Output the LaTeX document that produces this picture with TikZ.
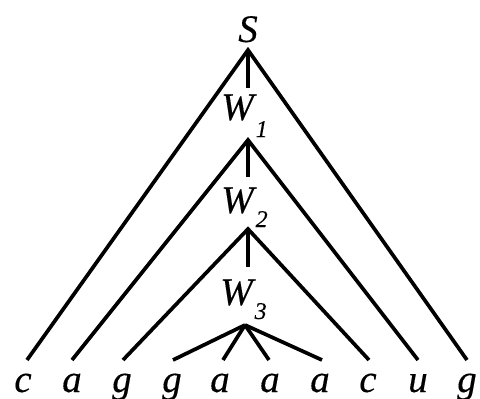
\documentclass[tikz,border=0pt]{standalone}
\usepackage{fontspec}
\setmainfont{Liberation Serif}[ItalicFeatures={FakeBold=0.3}]
\begin{document}
\begin{tikzpicture}[x=1pt,y=-1pt,
  lbl/.style={inner sep=0pt,anchor=base,font=\fontsize{39}{39}\selectfont\itshape},
  wlbl/.style={inner sep=0pt,anchor=base west,font=\fontsize{39}{39}\selectfont\itshape},
  edge/.style={line width=3.7pt,line cap=butt},
  stem/.style={line width=4pt}]
\newcommand{\subdig}[2]{\raisebox{-#1pt}{\fontsize{24}{24}\selectfont\itshape #2}}
\useasboundingbox (0,0) rectangle (480,399);
% labels
\node[lbl] (S) at (248,42) {S};
\node[wlbl] (W1) at (221,120) {W\hspace{2pt}\subdig{17}{1}};
\node[wlbl] (W2) at (221,213) {W\hspace{2pt}\subdig{14}{2}};
\node[wlbl] (W3) at (220,305) {W\hspace{2pt}\subdig{14}{3}};
% leaves
\node[lbl] (l1) at (23,392) {c};
\node[lbl] (l2) at (72,392) {a};
\node[lbl] (l3) at (122,392) {g};
\node[lbl] (l4) at (172,392) {g};
\node[lbl] (l5) at (220,392) {a};
\node[lbl] (l6) at (270,392) {a};
\node[lbl] (l7) at (320,392) {a};
\node[lbl] (l8) at (368,392) {c};
\node[lbl] (l9) at (418,392) {u};
\node[lbl] (l10) at (467,392) {g};
% apexes and stem ends
\coordinate (aS) at (248,50);
\coordinate (a1) at (248,140);
\coordinate (a2) at (248,229);
\coordinate (a3) at (245,325);
\coordinate (sS) at (248,88);
\coordinate (s1) at (248,177);
\coordinate (s2) at (248,267);
% leaf line ends
\coordinate (e1) at (27,360);
\coordinate (e2) at (72,360);
\coordinate (e3) at (123,360);
\coordinate (e4) at (173,360);
\coordinate (e5) at (223,360);
\coordinate (e6) at (269,360);
\coordinate (e7) at (322,360);
\coordinate (e8) at (369,360);
\coordinate (e9) at (418,360);
\coordinate (e10) at (467,360);
% connectors
\draw[stem] (aS) -- (sS);
\draw[stem] (a1) -- (s1);
\draw[stem] (a2) -- (s2);
\draw[edge,line join=miter] (e1) -- (aS) -- (e10);
\draw[edge,line join=miter] (e2) -- (a1) -- (e9);
\draw[edge,line join=miter] (e3) -- (a2) -- (e8);
\draw[edge] (a3) -- (e4);
\draw[edge] (a3) -- (e5);
\draw[edge] (a3) -- (e6);
\draw[edge] (a3) -- (e7);
\end{tikzpicture}
\end{document}
